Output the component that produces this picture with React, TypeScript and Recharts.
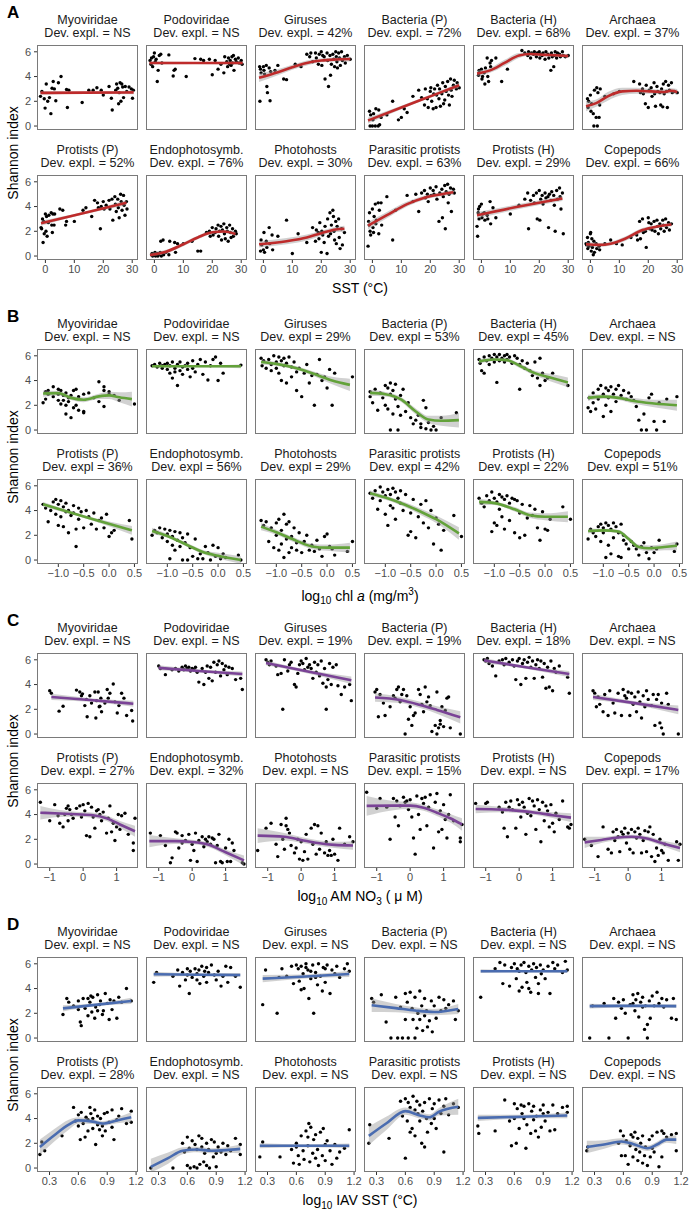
import React from 'react';
import { ComposedChart, Scatter, Line, Area, XAxis, YAxis } from 'recharts';

type Pt = [number, number];
type Fit = [number, number, number, number]; // x, fit, lower, upper

const TAXA = ['Myoviridae', 'Podoviridae', 'Giruses', 'Bacteria (P)', 'Bacteria (H)', 'Archaea',
  'Protists (P)', 'Endophotosymb.', 'Photohosts', 'Parasitic protists', 'Protists (H)', 'Copepods'];

const explA = ['Dev. expl. = NS', 'Dev. expl. = NS', 'Dev. expl. = 42%', 'Dev. expl. = 72%', 'Dev. expl. = 68%', 'Dev. expl. = 37%',
  'Dev. expl. = 52%', 'Dev. expl. = 76%', 'Dev. expl. = 30%', 'Dev. expl. = 63%', 'Dev. expl. = 29%', 'Dev. expl. = 66%'];
const explB = ['Dev. expl. = NS', 'Dev. expl. = NS', 'Dev. expl = 29%', 'Dev. expl = 53%', 'Dev. expl = 45%', 'Dev. expl. = NS',
  'Dev. expl = 36%', 'Dev. expl = 56%', 'Dev. expl = 29%', 'Dev. expl = 42%', 'Dev. expl = 22%', 'Dev. expl = 51%'];
const explC = ['Dev. expl. = NS', 'Dev. expl. = NS', 'Dev. expl. = 19%', 'Dev. expl. = 19%', 'Dev. expl. = 18%', 'Dev. expl. = NS',
  'Dev. expl. = 27%', 'Dev. expl. = 32%', 'Dev. expl. = NS', 'Dev. expl. = 15%', 'Dev. expl. = NS', 'Dev. expl. = 17%'];
const explD = ['Dev. expl. = NS', 'Dev. expl. = NS', 'Dev. expl. = NS', 'Dev. expl. = NS', 'Dev. expl. = NS', 'Dev. expl. = NS',
  'Dev. expl. = 28%', 'Dev. expl. = NS', 'Dev. expl. = NS', 'Dev. expl. = NS', 'Dev. expl. = NS', 'Dev. expl. = NS'];

const ticksA = [0, 10, 20, 30];
const ticksB = [-1, -0.5, 0, 0.5];
const ticksC = [-1, 0, 1];
const ticksD = [0.3, 0.6, 0.9, 1.2];
const yTicks = [0, 2, 4, 6];

// ---- A: SST ----
const a1: Pt[] = [[-1.7,2.4],[-1.2,2.8],[-0.4,2.2],[-0.1,1.45],[0.3,3.4],[0.8,2.0],[1.4,2.3],[1.9,1.0],[2.3,3.05],[2.7,3.6],[3.1,3.0],[3.6,2.05],[4.5,3.5],[5.4,4.0],[7.3,2.95],[8.1,2.9],[7.6,1.5],[12.7,1.9],[15,2.9],[16.5,2.9],[17.8,3.1],[19.3,2.9],[20,2.5],[22,3.2],[22.8,2.25],[23.1,1.3],[24.3,2.9],[24.6,3.4],[25,3.05],[25.3,1.8],[25.8,3.5],[26.1,2.0],[26.4,3.4],[26.7,3.15],[27,2.3],[27.6,3.2],[28.1,2.8],[28.9,3.15],[29.7,3.0],[30.4,2.9],[30.1,2.25],[25.5,2.7]];
const a2: Pt[] = [[-1.5,5.3],[-1.2,5.0],[-1,5.5],[-0.6,4.8],[-0.3,5.6],[0,5.9],[0.3,5.2],[0.6,5.4],[1,3.6],[1.3,4.5],[1.7,5.7],[2.2,5.8],[2.6,5.1],[5,5.75],[6.8,4.5],[7.2,4.6],[6.5,4.05],[11,4.0],[14,5.45],[16,5.4],[17,5.3],[19,5.4],[20,4.15],[21,5.3],[22,4.6],[23,5.0],[24,4.3],[24.3,5.6],[25,5.2],[25.3,4.8],[25.6,5.5],[26,5.0],[26.2,5.3],[26.5,4.9],[26.8,5.6],[27,5.1],[27.3,5.7],[27.5,4.5],[28,5.4],[28.3,5.2],[29,5.5],[29.3,5.1],[30,5.3],[30.3,5.0]];
const a3: Pt[] = [[-1.3,4.8],[-1,4.6],[-0.8,4.3],[-1.2,2.0],[0,4.8],[0.2,4.5],[0.4,4.2],[1,4.9],[1.2,3.2],[1.4,2.7],[2,4.7],[2.3,2.05],[2.5,4.4],[4,4.5],[5,4.9],[7,3.8],[8,3.75],[11,5.0],[13,4.8],[15,5.8],[16,5.6],[16.4,5.9],[17,5.2],[18,5.9],[18.3,5.5],[19,5.0],[19.3,5.8],[20,6.0],[20.2,4.9],[20.5,5.7],[21,5.6],[21.3,3.8],[22,5.9],[22.2,5.3],[22.5,3.2],[23,5.7],[23.2,4.1],[23.5,5.0],[24,5.8],[24.3,5.4],[24.6,4.8],[25,6.0],[25.2,5.6],[25.4,5.2],[25.6,4.7],[26,5.9],[26.3,5.5],[26.6,4.9],[27,6.0],[27.3,5.3],[28,5.6],[28.3,5.1],[29,5.7],[30,5.4]];
const a4: Pt[] = [[-1,1.2],[-0.8,0.0],[-0.6,0.9],[0,0.0],[0.2,0.5],[0.4,1.0],[1,0.0],[1.2,1.4],[2,0.0],[2.2,1.3],[2.5,0.1],[3,0.7],[5,0.9],[7,2.0],[9,0.5],[10,0.7],[11,1.4],[12,1.1],[14,2.4],[16,2.9],[17,2.3],[18,1.7],[18.3,3.0],[19,2.2],[19.3,1.5],[20,2.8],[20.2,3.1],[20.5,2.0],[21,1.4],[21.2,2.6],[21.5,3.0],[22,1.5],[22.2,2.5],[22.5,3.3],[23,2.2],[23.2,3.0],[23.5,1.6],[24,2.6],[24.3,3.5],[24.6,1.8],[25,2.1],[25.2,3.2],[25.5,2.8],[26,3.6],[26.3,2.5],[26.6,1.7],[27,3.8],[27.2,2.9],[27.5,2.4],[28,3.3],[28.3,3.7],[29,3.0],[29.3,3.5],[30,3.1]];
const a5: Pt[] = [[-1,4.1],[-0.8,4.5],[-0.6,4.3],[0,4.6],[0.2,3.8],[0.4,4.0],[1,4.3],[1.2,3.4],[1.4,4.7],[2,5.5],[2.2,4.0],[2.5,3.6],[3,5.1],[3.2,4.8],[3.5,5.3],[5,5.5],[7,3.6],[9,4.6],[14,6.1],[15,5.9],[16,5.7],[16.3,6.0],[17,5.5],[17.3,5.9],[18,5.8],[18.3,6.0],[19,5.6],[19.3,5.9],[20,6.0],[20.2,5.5],[20.5,5.8],[21,5.7],[21.3,5.9],[22,5.4],[22.3,6.0],[23,5.8],[23.3,5.5],[24,4.5],[24.2,5.9],[24.5,5.6],[25,4.8],[25.2,5.7],[25.5,6.0],[26,5.5],[26.3,5.9],[27,5.8],[27.3,5.6],[28,6.0],[28.3,5.7],[29,5.6],[30,5.7]];
const a6: Pt[] = [[-1,2.2],[-0.8,1.5],[-0.6,2.0],[0,2.5],[0.2,1.2],[0.4,1.8],[1,1.0],[1.2,0.0],[1.4,2.9],[2,0.7],[2.2,3.1],[2.4,0.0],[2.6,2.7],[3,0.7],[3.2,1.7],[3.4,3.0],[5,2.4],[8,2.6],[10,2.8],[15,3.6],[17,3.4],[17.3,2.7],[18,3.0],[18.3,2.6],[19,1.8],[19.3,3.3],[20,1.5],[20.3,2.9],[21,3.1],[21.3,2.4],[22,3.5],[22.2,2.6],[22.5,1.6],[23,3.2],[23.3,2.8],[24,2.7],[24.3,1.7],[24.6,3.0],[25,1.55],[25.2,3.4],[25.5,2.6],[26,3.6],[26.3,2.8],[26.6,1.5],[27,3.3],[27.3,2.9],[28,3.5],[28.3,2.7],[29,2.8],[30,2.7]];
const a7: Pt[] = [[-1.5,2.3],[-1.3,2.2],[-1,3.0],[-0.8,1.1],[-0.6,2.8],[-0.4,1.8],[0,3.4],[0.2,2.0],[0.4,3.2],[0.6,1.6],[1,2.7],[1.2,3.3],[2,3.5],[2.2,2.5],[2.4,1.9],[2.6,3.4],[3,2.5],[3.2,3.4],[5,3.8],[6,3.7],[7,2.5],[7.3,2.8],[10,2.8],[13,3.7],[14,3.9],[16,3.2],[17,4.5],[18,4.3],[18.3,3.9],[19,2.2],[19.3,4.0],[20,4.4],[20.3,3.8],[21,4.1],[22,4.5],[22.3,3.8],[23,4.6],[23.3,2.9],[24,4.8],[24.2,4.2],[24.5,3.6],[25,4.6],[25.2,3.9],[25.5,3.1],[26,5.0],[26.2,4.4],[26.5,3.7],[27,4.9],[27.2,4.1],[27.5,3.3],[28,4.4],[28.2,3.8]];
const a8: Pt[] = [[-1,0.1],[-0.8,0.2],[-0.6,0.0],[0,0.1],[0.2,0.3],[0.4,0.0],[1,0.2],[1.2,0.0],[1.4,0.1],[2,0.3],[2.2,1.2],[2.4,0.0],[3,1.3],[3.2,0.1],[4,0.3],[5,0.1],[5.3,1.2],[7,1.1],[7.3,0.3],[8,1.0],[10,1.0],[13,1.2],[15,0.4],[16,0.4],[18,1.9],[19,2.0],[19.3,1.6],[20,2.3],[20.3,1.7],[21,1.9],[21.3,2.2],[22,2.5],[22.2,1.6],[22.5,2.0],[23,2.4],[23.2,1.3],[23.5,2.1],[24,2.6],[24.2,1.8],[24.5,1.4],[25,2.3],[25.2,2.0],[25.5,1.2],[26,2.5],[26.2,1.9],[26.5,1.5],[27,2.2],[27.3,1.6],[28,2.0],[28.3,1.8]];
const a9: Pt[] = [[-1,0.4],[-0.8,1.3],[-0.6,0.9],[0,0.5],[0.2,1.9],[0.4,0.3],[1,1.2],[1.2,0.7],[2,2.3],[2.2,1.0],[3,1.7],[3.2,0.5],[5,1.6],[8,2.9],[10,0.2],[12,1.8],[15,1.1],[17,2.3],[18,1.2],[18.3,2.1],[19,1.9],[19.2,1.4],[19.5,2.7],[20,0.3],[20.2,2.0],[20.5,1.7],[21,1.1],[21.3,2.4],[22,0.2],[22.2,3.0],[22.5,1.6],[23,3.5],[23.2,1.8],[23.5,2.5],[24,3.7],[24.2,3.2],[24.4,2.0],[24.6,1.3],[25,2.8],[25.2,1.0],[25.5,2.4],[26,3.0],[26.2,1.5],[26.5,0.6],[27,2.2],[27.3,0.9],[28,1.9]];
const a10: Pt[] = [[-1.5,0.8],[-1.3,2.8],[-1.1,2.5],[-1,3.5],[-0.8,2.0],[-0.6,1.7],[0,3.8],[0.2,2.3],[0.4,1.9],[0.6,3.2],[1,4.2],[1.2,2.6],[1.4,2.9],[2,4.3],[2.2,1.8],[2.4,3.7],[3,4.3],[3.2,2.5],[5,4.8],[7,1.3],[8,3.7],[12,4.9],[14,4.4],[15,5.0],[16,3.6],[17,5.1],[18,5.3],[18.3,4.7],[19,5.0],[19.3,4.4],[20,5.5],[20.3,4.9],[21,5.3],[21.3,5.0],[22,5.6],[22.3,4.6],[23,2.8],[23.3,5.1],[24,5.4],[24.2,3.1],[24.5,4.8],[25,5.7],[25.2,2.2],[25.5,5.2],[26,5.8],[26.2,4.3],[26.5,5.0],[27,5.5],[27.3,3.6],[28,5.4],[28.3,5.1]];
const a11: Pt[] = [[-1.5,2.4],[-1.3,1.6],[-1.1,3.5],[-1,3.8],[-0.8,3.0],[-0.6,4.0],[0,4.2],[0.2,3.1],[0.4,3.4],[1,3.5],[1.2,2.9],[2,3.3],[2.2,3.0],[3,4.4],[3.2,2.6],[4,3.9],[5,3.1],[10,3.4],[13,4.1],[15,4.6],[16,5.1],[16.3,2.2],[17,4.5],[18,4.9],[18.3,4.3],[19,5.1],[19.3,3.0],[20,5.3],[20.2,2.9],[20.5,4.6],[21,4.9],[21.3,4.2],[22,5.1],[22.3,4.7],[23,4.8],[23.2,2.3],[23.5,5.0],[24,4.5],[24.3,5.2],[25,4.9],[25.2,4.1],[25.5,2.0],[26,5.3],[26.3,4.6],[27,5.5],[27.2,4.8],[27.5,3.8],[28,5.1],[28.3,1.8]];
const a12: Pt[] = [[-1.5,1.0],[-1.3,0.9],[-1,1.5],[-0.9,0.6],[-0.7,1.1],[-0.5,0.8],[0,1.8],[0.1,1.9],[0.3,0.4],[0.5,1.4],[0.7,0.7],[1,0.1],[1.2,1.2],[1.4,0.3],[2,1.0],[2.2,0.6],[3,0.8],[3.2,0.5],[5,1.0],[7,1.3],[9,1.0],[11,0.9],[14,1.5],[16,1.7],[16.3,1.3],[17,2.8],[17.3,1.4],[18,3.0],[18.3,1.9],[19,2.0],[19.3,0.7],[20,3.1],[20.2,2.7],[20.5,2.2],[21,2.6],[21.3,2.1],[22,2.8],[22.3,2.0],[23,2.9],[23.2,2.4],[23.5,1.8],[24,2.6],[24.3,2.2],[25,2.9],[25.2,2.5],[25.5,2.0],[26,3.0],[26.3,2.3],[27,2.7],[27.3,2.1],[28,2.6]];

const fa1: Fit[] = [[-1.7,2.68,2.52,2.84],[14,2.7,2.6,2.8],[30.5,2.72,2.56,2.88]];
const fa2: Fit[] = [[-1.7,5.1,4.98,5.22],[14,5.1,5.02,5.18],[30.5,5.1,4.98,5.22]];
const fa3: Fit[] = [[-1.5,3.9,3.55,4.25],[5,4.35,4.1,4.6],[10,4.75,4.55,4.95],[15,5.1,4.9,5.3],[20,5.3,5.15,5.45],[25,5.38,5.22,5.54],[30,5.42,5.22,5.62]];
const fa4: Fit[] = [[-1.5,0.45,0.2,0.7],[10,1.5,1.35,1.65],[20,2.4,2.28,2.52],[30,3.3,3.1,3.5]];
const fa5: Fit[] = [[-1.5,4.25,4.0,4.5],[3,4.5,4.3,4.7],[8,5.1,4.85,5.35],[13,5.7,5.5,5.9],[17,5.82,5.7,5.94],[22,5.75,5.65,5.85],[26,5.72,5.6,5.84],[30,5.65,5.5,5.8]];
const fa6: Fit[] = [[-1.5,1.6,1.2,2.0],[2,1.85,1.55,2.15],[6,2.4,2.05,2.75],[11,2.8,2.5,3.1],[16,2.85,2.6,3.1],[21,2.8,2.6,3.0],[25,2.75,2.55,2.95],[28,2.85,2.65,3.05],[30,2.75,2.5,3.0]];
const fa7: Fit[] = [[-1.5,2.65,2.45,2.85],[13,3.45,3.35,3.55],[28,4.3,4.1,4.5]];
const fa8: Fit[] = [[-1.5,0.08,-0.05,0.25],[4,0.35,0.2,0.5],[10,0.95,0.8,1.1],[15,1.5,1.35,1.65],[20,1.92,1.8,2.04],[24,1.98,1.86,2.1],[28,1.78,1.6,1.96]];
const fa9: Fit[] = [[-1.5,0.95,0.7,1.2],[8,1.2,0.95,1.45],[15,1.5,1.25,1.75],[20,1.85,1.65,2.05],[25,2.15,1.95,2.35],[28,2.2,1.95,2.45]];
const fa10: Fit[] = [[-1.5,2.45,2.15,2.75],[5,3.3,3.05,3.55],[12,4.2,4.0,4.4],[18,4.72,4.55,4.89],[24,5.0,4.85,5.15],[28,5.15,4.95,5.35]];
const fa11: Fit[] = [[-1.5,3.3,3.05,3.55],[13,4.0,3.8,4.2],[28,4.65,4.45,4.85]];
const fa12: Fit[] = [[-1.5,0.95,0.75,1.15],[3,0.9,0.75,1.05],[7,1.0,0.85,1.15],[12,1.4,1.22,1.58],[18,2.1,1.93,2.27],[23,2.38,2.25,2.51],[28,2.55,2.38,2.72]];

// ---- B: log10 chl a ----
const b1: Pt[] = [[-1.3,2.2],[-1.25,2.5],[-1.25,3.1],[-1.2,2.9],[-1.2,3.2],[-1.1,3.5],[-1.1,2.7],[-1,3.3],[-1,2.9],[-1,2.4],[-0.95,3.2],[-0.95,2.1],[-0.9,2.8],[-0.9,2.4],[-0.85,3.0],[-0.85,2.0],[-0.85,1.3],[-0.8,2.6],[-0.8,2.3],[-0.75,1.0],[-0.75,2.8],[-0.7,3.2],[-0.7,1.8],[-0.65,2.0],[-0.65,3.3],[-0.6,2.7],[-0.6,1.6],[-0.5,2.9],[-0.5,1.4],[-0.5,1.5],[-0.4,3.0],[-0.3,2.6],[-0.2,3.9],[-0.2,2.3],[-0.1,3.5],[-0.1,3.2],[-0.1,1.9],[0,2.9],[0,3.1],[0.1,2.8],[0.2,2.4],[0.5,2.1]];
const b2: Pt[] = [[-1.3,5.2],[-1.25,5.3],[-1.2,5.1],[-1.15,5.4],[-1.1,5.2],[-1.1,5.0],[-1.05,5.3],[-1,5.4],[-1,4.9],[-0.95,5.2],[-0.95,4.6],[-0.9,5.5],[-0.9,4.2],[-0.85,5.0],[-0.85,4.7],[-0.8,5.3],[-0.8,3.6],[-0.75,5.5],[-0.75,4.8],[-0.7,5.1],[-0.7,4.5],[-0.65,5.2],[-0.6,5.4],[-0.6,4.9],[-0.55,4.3],[-0.5,5.0],[-0.5,5.6],[-0.45,4.7],[-0.4,5.3],[-0.35,5.7],[-0.3,4.5],[-0.25,5.5],[-0.2,4.05],[-0.15,5.2],[-0.1,5.7],[-0.05,5.9],[0,4.0],[0.05,5.4],[0.1,4.6],[0.45,5.25]];
const b3: Pt[] = [[-1.3,5.8],[-1.28,5.2],[-1.25,5.6],[-1.2,5.0],[-1.15,5.7],[-1.1,5.3],[-1.1,4.8],[-1.05,6.0],[-1,5.5],[-1,5.0],[-0.95,5.9],[-0.95,4.6],[-0.9,5.6],[-0.9,4.0],[-0.85,5.8],[-0.85,5.2],[-0.8,5.4],[-0.8,3.8],[-0.75,5.9],[-0.7,5.1],[-0.7,4.3],[-0.65,5.5],[-0.6,3.2],[-0.6,4.7],[-0.55,5.0],[-0.5,2.7],[-0.45,4.6],[-0.4,5.3],[-0.35,3.8],[-0.3,4.4],[-0.25,2.0],[-0.2,4.5],[-0.15,5.7],[-0.1,4.0],[-0.05,4.3],[0,3.4],[0.05,4.9],[0.1,2.0],[0.15,4.6],[0.5,4.3]];
const b4: Pt[] = [[-1.3,2.7],[-1.3,3.1],[-1.25,2.2],[-1.2,3.3],[-1.15,1.6],[-1.1,3.0],[-1.05,2.6],[-1,3.6],[-1,2.0],[-0.95,3.4],[-0.95,1.7],[-0.9,3.8],[-0.9,2.9],[-0.9,0.0],[-0.85,3.2],[-0.85,1.3],[-0.8,2.5],[-0.8,3.7],[-0.75,1.9],[-0.75,0.0],[-0.7,2.8],[-0.7,1.2],[-0.65,3.3],[-0.6,1.5],[-0.55,2.2],[-0.5,1.0],[-0.45,0.5],[-0.4,0.8],[-0.35,1.2],[-0.3,0.2],[-0.25,2.4],[-0.2,1.8],[-0.15,0.6],[-0.1,0.0],[-0.05,0.3],[0,0.0],[0.1,1.0],[0.4,1.4],[-0.3,0.5],[-0.2,0.1]];
const b5: Pt[] = [[-1.3,5.7],[-1.28,5.4],[-1.25,4.8],[-1.2,5.9],[-1.2,4.6],[-1.15,5.6],[-1.1,6.0],[-1.1,5.3],[-1.05,5.8],[-1,6.1],[-1,5.5],[-0.95,5.9],[-0.95,3.85],[-0.9,6.1],[-0.9,5.6],[-0.85,5.8],[-0.8,6.0],[-0.8,5.5],[-0.75,6.1],[-0.75,5.7],[-0.7,5.9],[-0.65,5.4],[-0.6,6.0],[-0.55,5.8],[-0.5,5.3],[-0.5,3.3],[-0.45,5.6],[-0.4,5.0],[-0.35,5.4],[-0.3,4.8],[-0.25,4.4],[-0.2,5.5],[-0.15,4.2],[-0.1,5.8],[-0.1,3.6],[-0.05,4.6],[0,4.0],[0.05,4.2],[0.15,4.6],[0.45,3.6]];
const b6: Pt[] = [[-1.3,1.8],[-1.28,2.6],[-1.25,1.5],[-1.2,2.2],[-1.2,3.0],[-1.15,1.7],[-1.1,3.3],[-1.1,2.5],[-1.05,3.6],[-1,2.9],[-1,1.1],[-0.95,3.4],[-0.95,2.0],[-0.9,3.2],[-0.9,2.6],[-0.85,3.5],[-0.85,1.5],[-0.8,2.9],[-0.75,3.3],[-0.75,2.3],[-0.7,3.6],[-0.65,2.8],[-0.6,3.2],[-0.55,2.5],[-0.5,3.0],[-0.45,2.7],[-0.4,2.4],[-0.35,1.9],[-0.3,0.8],[-0.25,0.0],[-0.2,1.3],[-0.15,0.0],[-0.1,2.6],[-0.05,2.9],[0,0.7],[0.05,0.0],[0.1,2.2],[0.2,0.7],[0.25,2.5],[0.45,2.7]];
const b7: Pt[] = [[-1.3,4.5],[-1.25,4.2],[-1.2,3.1],[-1.15,4.0],[-1.1,4.7],[-1.05,4.9],[-1.05,3.7],[-1,4.5],[-1,2.8],[-0.95,4.8],[-0.95,3.5],[-0.9,4.3],[-0.9,2.7],[-0.85,4.6],[-0.85,3.9],[-0.8,4.0],[-0.8,2.2],[-0.75,3.6],[-0.7,4.4],[-0.7,3.8],[-0.65,1.1],[-0.65,2.5],[-0.6,4.2],[-0.6,3.3],[-0.55,3.9],[-0.5,2.6],[-0.45,4.0],[-0.4,3.5],[-0.35,2.9],[-0.3,3.8],[-0.25,2.5],[-0.2,3.2],[-0.15,3.4],[-0.1,2.6],[-0.05,3.7],[0,1.9],[0.05,2.2],[0.1,2.4],[0.4,3.2],[0.45,1.7]];
const b8: Pt[] = [[-1.3,2.0],[-1.25,2.4],[-1.2,2.2],[-1.15,2.6],[-1.1,1.8],[-1.05,2.5],[-1,2.1],[-1,1.5],[-0.95,2.4],[-0.95,0.1],[-0.9,1.9],[-0.9,1.2],[-0.85,2.3],[-0.85,0.8],[-0.8,1.6],[-0.75,2.2],[-0.75,1.1],[-0.7,0.0],[-0.7,1.8],[-0.65,1.4],[-0.6,0.0],[-0.6,2.1],[-0.55,1.0],[-0.5,0.3],[-0.45,1.7],[-0.4,0.1],[-0.35,0.5],[-0.3,0.1],[-0.25,1.1],[-0.2,0.6],[-0.15,0.0],[-0.1,1.2],[-0.05,0.3],[0,1.0],[0.05,0.1],[0.1,0.5],[0.15,0.2],[0.4,0.4],[0.45,0.0]];
const b9: Pt[] = [[-1.3,3.2],[-1.25,2.8],[-1.2,3.1],[-1.15,1.5],[-1.1,2.6],[-1.05,1.0],[-1,3.0],[-1,2.0],[-0.95,3.3],[-0.95,0.8],[-0.9,2.4],[-0.9,1.3],[-0.85,0.2],[-0.85,3.7],[-0.8,2.9],[-0.8,1.7],[-0.75,3.1],[-0.75,0.6],[-0.7,1.9],[-0.7,1.0],[-0.65,2.6],[-0.6,0.8],[-0.6,1.4],[-0.55,2.2],[-0.5,0.6],[-0.45,1.5],[-0.4,2.0],[-0.35,0.8],[-0.3,1.2],[-0.25,0.7],[-0.2,1.6],[-0.15,0.9],[-0.1,0.3],[-0.05,1.9],[0,2.1],[0.05,1.1],[0.1,0.9],[0.15,0.4],[0.4,0.7],[0.5,1.5]];
const b10: Pt[] = [[-1.3,5.4],[-1.25,5.0],[-1.2,5.6],[-1.15,4.1],[-1.1,5.9],[-1.1,4.8],[-1.05,5.5],[-1,5.2],[-1,3.7],[-0.95,5.7],[-0.95,2.8],[-0.9,5.3],[-0.9,4.4],[-0.85,5.8],[-0.85,4.2],[-0.8,5.5],[-0.8,3.3],[-0.75,5.0],[-0.7,5.6],[-0.7,4.6],[-0.65,4.0],[-0.6,5.3],[-0.55,2.0],[-0.5,3.8],[-0.5,2.3],[-0.45,4.9],[-0.4,1.8],[-0.35,3.5],[-0.3,4.5],[-0.25,3.0],[-0.2,4.8],[-0.15,2.6],[-0.1,4.0],[-0.05,1.3],[0,3.4],[0.05,2.9],[0.1,0.8],[0.15,2.4],[0.35,3.6],[0.5,1.9]];
const b11: Pt[] = [[-1.3,5.0],[-1.25,4.6],[-1.2,4.3],[-1.15,5.2],[-1.1,4.8],[-1.05,5.5],[-1.05,2.3],[-1,5.0],[-1,3.0],[-0.95,4.7],[-0.95,2.8],[-0.9,5.3],[-0.9,4.1],[-0.85,5.1],[-0.85,3.5],[-0.8,4.9],[-0.8,2.5],[-0.75,5.2],[-0.7,4.6],[-0.7,3.2],[-0.65,5.0],[-0.6,2.2],[-0.6,4.9],[-0.55,4.8],[-0.5,3.8],[-0.5,1.8],[-0.45,4.5],[-0.4,2.0],[-0.35,3.4],[-0.3,4.4],[-0.25,3.6],[-0.2,4.1],[-0.15,2.6],[-0.1,1.6],[-0.05,3.9],[0,2.5],[0.05,2.4],[0.1,3.3],[0.35,4.3],[0.5,3.3]];
const b12: Pt[] = [[-1.3,1.7],[-1.25,2.5],[-1.2,2.2],[-1.15,1.9],[-1.1,2.7],[-1.05,2.9],[-1.05,1.5],[-1,2.6],[-1,2.2],[-0.95,3.0],[-0.95,0.2],[-0.9,2.8],[-0.9,1.2],[-0.85,2.5],[-0.85,0.5],[-0.8,3.0],[-0.8,1.8],[-0.75,2.7],[-0.7,2.2],[-0.7,0.3],[-0.65,2.9],[-0.65,0.2],[-0.6,2.0],[-0.6,1.6],[-0.55,1.3],[-0.5,0.9],[-0.45,1.5],[-0.4,1.2],[-0.35,0.9],[-0.3,0.4],[-0.25,1.1],[-0.2,1.4],[-0.15,0.6],[-0.1,0.1],[-0.05,1.0],[0,0.6],[0.05,0.9],[0.1,1.6],[0.4,0.7],[0.45,1.3]];

const fb1: Fit[] = [[-1.3,2.95,2.7,3.2],[-1,2.98,2.8,3.16],[-0.75,2.6,2.42,2.78],[-0.5,2.45,2.25,2.65],[-0.2,2.72,2.5,2.94],[0,2.8,2.5,3.1],[0.2,2.65,2.25,3.05],[0.45,2.5,1.9,3.1]];
const fb2: Fit[] = [[-1.3,5.15,5.05,5.25],[-0.4,5.15,5.08,5.22],[0.45,5.15,5.0,5.3]];
const fb3: Fit[] = [[-1.3,5.5,5.3,5.7],[-1,5.35,5.2,5.5],[-0.6,5.0,4.85,5.15],[-0.2,4.45,4.25,4.65],[0.1,4.0,3.7,4.3],[0.45,3.65,3.15,4.15]];
const fb4: Fit[] = [[-1.3,3.0,2.75,3.25],[-1,2.9,2.72,3.08],[-0.7,2.5,2.3,2.7],[-0.4,1.5,1.25,1.75],[-0.15,0.85,0.55,1.15],[0.1,0.75,0.35,1.15],[0.45,0.8,0.2,1.4]];
const fb5: Fit[] = [[-1.3,5.55,5.35,5.75],[-1,5.7,5.58,5.82],[-0.75,5.65,5.52,5.78],[-0.5,5.2,5.02,5.38],[-0.2,4.6,4.4,4.8],[0.1,4.25,3.95,4.55],[0.45,3.85,3.45,4.25]];
const fb6: Fit[] = [[-1.3,2.6,2.35,2.85],[-1,2.7,2.52,2.88],[-0.7,2.6,2.42,2.78],[-0.4,2.35,2.12,2.58],[0,2.15,1.85,2.45],[0.45,2.0,1.55,2.45]];
const fb7: Fit[] = [[-1.3,4.5,4.3,4.7],[-0.4,3.4,3.28,3.52],[0.45,2.4,2.05,2.75]];
const fb8: Fit[] = [[-1.3,2.35,2.1,2.6],[-1,1.95,1.8,2.1],[-0.6,1.2,1.05,1.35],[-0.3,0.65,0.48,0.82],[0,0.35,0.12,0.58],[0.45,0.0,-0.3,0.3]];
const fb9: Fit[] = [[-1.3,2.7,2.4,3.0],[-1,2.25,2.05,2.45],[-0.6,1.55,1.35,1.75],[-0.3,1.1,0.88,1.32],[0,1.0,0.75,1.25],[0.45,1.0,0.6,1.4]];
const fb10: Fit[] = [[-1.3,5.4,5.15,5.65],[-1,5.05,4.88,5.22],[-0.6,4.45,4.25,4.65],[-0.3,3.9,3.65,4.15],[0,3.3,3.0,3.6],[0.45,2.15,1.65,2.65]];
const fb11: Fit[] = [[-1.3,4.7,4.45,4.95],[-1,4.6,4.45,4.75],[-0.6,4.1,3.92,4.28],[-0.3,3.62,3.4,3.84],[0,3.5,3.22,3.78],[0.45,3.5,3.05,3.95]];
const fb12: Fit[] = [[-1.3,2.35,2.15,2.55],[-1,2.4,2.28,2.52],[-0.7,2.3,2.15,2.45],[-0.5,1.7,1.52,1.88],[-0.3,1.05,0.85,1.25],[-0.1,0.95,0.72,1.18],[0.2,1.05,0.8,1.3],[0.45,1.15,0.8,1.5]];

// ---- C: log10 AM NO3 ----
const c1: Pt[] = [[-1,3.5],[-0.95,3.3],[-0.72,1.85],[-0.6,2.25],[-0.2,3.55],[-0.1,3.4],[-0.05,3.1],[-0.02,3.25],[0.05,2.3],[0.1,2.8],[0.12,1.4],[0.2,3.1],[0.25,2.5],[0.35,3.4],[0.38,1.3],[0.4,2.7],[0.45,3.4],[0.48,2.2],[0.5,2.25],[0.53,2.9],[0.55,1.8],[0.65,2.5],[0.72,3.6],[0.75,2.9],[0.8,3.3],[0.9,4.05],[0.95,2.6],[1.02,1.7],[1.07,2.3],[1.15,3.3],[1.22,2.9],[1.3,1.5],[1.45,1.9],[1.48,1.05]];
const c2: Pt[] = [[-1,5.5],[-0.95,5.3],[-0.8,4.8],[-0.6,5.2],[-0.5,5.3],[-0.4,5.1],[-0.3,5.4],[-0.25,5.2],[-0.2,5.5],[-0.15,5.3],[-0.1,5.4],[-0.05,5.1],[0,5.3],[0.05,5.2],[0.1,5.4],[0.15,5.0],[0.2,4.2],[0.3,5.3],[0.35,4.0],[0.4,5.0],[0.45,5.5],[0.5,4.5],[0.55,5.4],[0.6,4.3],[0.65,5.8],[0.7,5.0],[0.75,5.6],[0.8,5.9],[0.85,4.7],[0.9,5.7],[0.95,5.2],[1,5.5],[1.05,4.8],[1.1,5.4],[1.2,5.3],[1.3,4.4],[1.45,4.5],[1.5,3.6]];
const c3: Pt[] = [[-1.05,6.0],[-1,5.8],[-0.95,5.6],[-0.9,5.9],[-0.75,5.5],[-0.7,4.8],[-0.6,4.9],[-0.5,6.0],[-0.4,5.1],[-0.35,5.6],[-0.3,5.8],[-0.2,4.0],[-0.15,3.8],[-0.1,4.9],[-0.05,5.6],[0,5.9],[0.05,5.7],[0.1,5.2],[0.15,6.1],[0.2,5.4],[0.25,5.6],[0.3,5.3],[0.35,4.5],[0.4,5.8],[0.45,5.0],[0.5,5.6],[0.55,4.7],[0.6,5.9],[0.65,4.1],[0.7,5.3],[0.75,3.8],[0.8,4.4],[0.85,5.7],[0.9,4.0],[0.95,5.4],[1.05,5.6],[1.1,3.9],[1.2,3.2],[1.3,3.8],[1.45,4.0],[1.5,2.7],[-0.55,2.0],[0.75,2.0]];
const c4: Pt[] = [[-1.05,3.4],[-1,3.6],[-0.95,1.4],[-0.9,3.2],[-0.8,2.5],[-0.75,1.5],[-0.6,2.2],[-0.5,3.1],[-0.45,2.9],[-0.4,3.6],[-0.35,3.8],[-0.3,2.6],[-0.25,3.2],[-0.2,3.6],[-0.15,0.0],[-0.1,3.1],[-0.05,1.2],[0,2.2],[0.05,0.7],[0.1,1.5],[0.15,1.7],[0.25,3.6],[0.3,3.2],[0.35,2.4],[0.4,1.8],[0.45,3.8],[0.5,2.6],[0.55,3.0],[0.6,2.3],[0.65,0.2],[0.75,0.7],[0.8,3.4],[0.85,0.5],[0.9,0.8],[0.95,2.2],[1,0.6],[1.05,1.9],[1.1,2.9],[1.15,3.0],[1.2,0.5],[1.5,0.0],[0.8,0.0],[0.9,1.1]];
const c5: Pt[] = [[-1.05,6.0],[-1,5.9],[-0.95,6.1],[-0.9,5.7],[-0.8,5.5],[-0.7,4.7],[-0.6,5.9],[-0.5,6.0],[-0.45,5.6],[-0.4,6.1],[-0.3,5.8],[-0.2,6.0],[-0.15,5.5],[-0.1,4.4],[-0.05,5.9],[0,6.1],[0.05,4.0],[0.1,5.7],[0.15,6.0],[0.2,4.5],[0.25,5.8],[0.3,6.2],[0.35,5.4],[0.4,5.9],[0.45,4.5],[0.5,5.6],[0.55,6.0],[0.6,5.3],[0.65,5.9],[0.7,4.6],[0.75,5.7],[0.8,3.7],[0.85,5.4],[0.9,3.8],[0.95,5.9],[1,3.5],[1.05,5.3],[1.1,5.0],[1.2,5.5],[1.45,4.6],[1.5,3.3]];
const c6: Pt[] = [[-1.05,3.5],[-1,3.3],[-0.95,2.2],[-0.9,3.0],[-0.85,2.4],[-0.75,1.8],[-0.7,3.2],[-0.6,1.5],[-0.55,3.5],[-0.45,2.5],[-0.4,1.7],[-0.3,3.3],[-0.2,1.5],[-0.15,3.6],[-0.1,3.1],[-0.05,2.9],[0,3.4],[0.05,1.5],[0.1,3.3],[0.15,2.4],[0.2,3.0],[0.25,1.8],[0.3,3.4],[0.35,2.6],[0.4,1.3],[0.45,3.1],[0.5,2.2],[0.55,3.5],[0.6,2.8],[0.7,2.3],[0.75,3.2],[0.8,0.7],[0.85,2.8],[0.9,3.2],[0.95,0.9],[1,0.5],[1.05,0.0],[1.15,3.3],[1.2,2.4],[1.5,0.0],[1,2.5]];
const c7: Pt[] = [[-1.28,5.0],[-1,3.5],[-0.85,4.8],[-0.75,3.9],[-0.7,3.3],[-0.6,3.0],[-0.55,4.0],[-0.5,4.5],[-0.45,4.7],[-0.45,3.5],[-0.4,4.4],[-0.35,4.0],[-0.3,3.7],[-0.2,4.5],[-0.1,4.7],[-0.05,3.8],[0,4.8],[0.05,4.3],[0.1,2.3],[0.15,4.9],[0.2,2.2],[0.25,4.6],[0.3,3.8],[0.35,2.9],[0.4,4.3],[0.45,4.4],[0.5,4.0],[0.55,3.5],[0.6,4.2],[0.7,2.5],[0.75,3.7],[0.8,4.7],[0.85,2.6],[0.9,3.3],[0.95,1.9],[1,3.0],[1.05,4.0],[1.1,2.8],[1.15,3.9],[1.25,4.1],[1.35,2.4],[1.5,1.7],[1.5,1.1],[1.55,3.7]];
const c8: Pt[] = [[-1.25,2.5],[-0.95,2.3],[-0.8,1.5],[-0.65,0.1],[-0.6,0.5],[-0.5,2.6],[-0.45,2.5],[-0.4,1.3],[-0.3,1.7],[-0.3,2.3],[-0.2,1.9],[-0.1,2.4],[-0.05,0.3],[0,1.6],[0.05,1.1],[0.1,2.5],[0.15,0.2],[0.2,1.9],[0.3,2.2],[0.35,1.4],[0.4,2.0],[0.45,1.8],[0.5,2.2],[0.55,1.6],[0.6,2.1],[0.65,2.0],[0.7,0.1],[0.75,1.5],[0.8,2.4],[0.85,0.2],[0.9,0.1],[1,1.3],[1.05,0.2],[1.1,2.0],[1.15,0.2],[1.2,1.7],[1.25,1.1],[1.5,0.1],[1.55,0.0]];
const c9: Pt[] = [[-1.3,1.1],[-1.05,2.9],[-0.9,3.3],[-0.75,1.6],[-0.7,0.6],[-0.6,3.2],[-0.55,2.0],[-0.5,1.2],[-0.45,3.7],[-0.45,3.1],[-0.4,2.8],[-0.35,2.5],[-0.3,1.5],[-0.2,0.9],[-0.15,1.3],[-0.1,2.0],[-0.05,0.4],[0,1.8],[0.05,0.3],[0.1,1.0],[0.15,2.4],[0.2,0.4],[0.3,2.9],[0.35,1.6],[0.4,3.2],[0.45,0.8],[0.5,3.1],[0.55,1.2],[0.6,2.5],[0.7,0.9],[0.75,1.8],[0.8,0.7],[0.85,1.1],[0.9,0.7],[0.95,2.0],[1,0.8],[1.1,0.3],[1.15,2.9],[1.3,1.6],[1.45,2.2],[1.55,1.8]];
const c10: Pt[] = [[-1.3,5.8],[-1,4.5],[-0.9,5.3],[-0.7,4.6],[-0.6,2.0],[-0.5,5.3],[-0.45,3.8],[-0.4,5.1],[-0.35,3.1],[-0.3,4.7],[-0.2,5.4],[-0.15,5.0],[-0.1,5.1],[-0.05,4.4],[0,5.2],[0.05,3.8],[0.1,2.1],[0.15,0.8],[0.2,5.5],[0.25,4.0],[0.3,2.8],[0.35,5.3],[0.4,4.9],[0.45,5.4],[0.5,3.1],[0.55,4.6],[0.6,5.6],[0.7,1.3],[0.75,5.0],[0.8,5.7],[0.85,2.6],[0.9,4.3],[0.95,2.8],[1,4.8],[1.05,3.6],[1.1,2.1],[1.15,4.0],[1.2,5.6],[1.3,3.5],[1.5,2.1],[1.5,1.8],[1.55,3.2]];
const c11: Pt[] = [[-1.3,4.9],[-1,4.9],[-0.95,5.0],[-0.6,4.6],[-0.5,4.2],[-0.45,2.9],[-0.4,5.0],[-0.35,2.2],[-0.3,4.6],[-0.25,5.1],[-0.2,4.4],[-0.1,2.9],[-0.05,5.2],[0,4.8],[0.05,3.8],[0.1,5.0],[0.15,4.6],[0.2,2.4],[0.25,4.1],[0.3,5.3],[0.35,3.9],[0.4,5.1],[0.45,4.7],[0.5,2.8],[0.55,5.2],[0.6,4.4],[0.65,1.8],[0.7,5.0],[0.75,3.5],[0.8,4.7],[0.85,4.3],[0.9,3.0],[0.95,4.8],[1,3.3],[1.05,2.6],[1.1,4.1],[1.2,3.6],[1.3,5.1],[1.45,3.0],[1.5,2.9],[1.55,3.2]];
const c12: Pt[] = [[-1.3,2.0],[-1.1,1.5],[-0.9,0.6],[-0.75,3.0],[-0.6,1.2],[-0.5,0.9],[-0.45,2.6],[-0.4,1.9],[-0.35,2.8],[-0.3,2.2],[-0.25,1.0],[-0.2,2.6],[-0.15,2.4],[-0.1,2.9],[-0.05,1.7],[0,2.5],[0.05,1.2],[0.1,2.8],[0.15,0.9],[0.2,2.6],[0.25,2.1],[0.3,2.9],[0.35,2.4],[0.4,0.9],[0.45,1.9],[0.5,2.7],[0.55,1.0],[0.6,2.6],[0.65,3.0],[0.7,0.6],[0.75,2.4],[0.8,0.2],[0.85,1.3],[0.9,0.7],[0.95,2.0],[1,1.1],[1.05,0.9],[1.1,1.6],[1.2,0.3],[1.45,1.8],[1.5,0.3],[1.55,1.6]];

const fc1: Fit[] = [[-0.95,3.0,2.75,3.25],[0.2,2.75,2.6,2.9],[1.5,2.45,2.2,2.7]];
const fc2: Fit[] = [[-1,5.35,5.15,5.55],[0.2,5.1,4.98,5.22],[1.5,4.85,4.65,5.05]];
const fc3: Fit[] = [[-1.05,5.75,5.55,5.95],[0.2,5.05,4.9,5.2],[1.5,4.35,4.05,4.65]];
const fc4: Fit[] = [[-1.05,2.95,2.6,3.3],[-0.3,2.75,2.5,3.0],[0.3,2.35,2.1,2.6],[0.8,1.95,1.65,2.25],[1.5,1.35,0.85,1.85]];
const fc5: Fit[] = [[-1.05,5.95,5.75,6.15],[0.2,5.4,5.28,5.52],[1.5,4.85,4.6,5.1]];
const fc6: Fit[] = [[-1.05,3.0,2.75,3.25],[0.2,2.5,2.35,2.65],[1.5,1.95,1.6,2.3]];
const fc7: Fit[] = [[-1.28,4.15,3.6,4.7],[-0.7,4.08,3.8,4.36],[-0.2,4.02,3.82,4.22],[0.3,3.95,3.75,4.15],[0.7,3.7,3.48,3.92],[1.1,3.2,2.92,3.48],[1.55,2.65,2.2,3.1]];
const fc8: Fit[] = [[-1.28,1.85,1.35,2.35],[-0.5,1.85,1.62,2.08],[0,1.78,1.6,1.96],[0.5,1.55,1.36,1.74],[1,0.95,0.72,1.18],[1.55,0.3,-0.1,0.7]];
const fc9: Fit[] = [[-1.3,2.3,1.7,2.9],[-0.5,2.2,1.9,2.5],[0,1.95,1.72,2.18],[0.5,1.7,1.48,1.92],[1,1.55,1.3,1.8],[1.55,1.5,1.15,1.85]];
const fc10: Fit[] = [[-1.3,4.7,3.9,5.5],[-0.5,4.72,4.35,5.09],[0,4.72,4.45,4.99],[0.4,4.55,4.3,4.8],[0.8,4.15,3.88,4.42],[1.2,3.7,3.35,4.05],[1.55,3.2,2.7,3.7]];
const fc11: Fit[] = [[-1.3,4.45,4.1,4.8],[-0.5,4.4,4.18,4.62],[0,4.3,4.12,4.48],[0.5,4.15,3.97,4.33],[1,3.95,3.72,4.18],[1.55,3.75,3.4,4.1]];
const fc12: Fit[] = [[-1.3,1.75,1.3,2.2],[-0.8,1.95,1.7,2.2],[-0.3,2.15,1.97,2.33],[0.1,2.2,2.03,2.37],[0.6,2.05,1.87,2.23],[1,1.7,1.48,1.92],[1.55,1.3,0.95,1.65]];

// ---- D: log10 IAV SST ----
const d1: Pt[] = [[0.44,1.9],[0.48,3.2],[0.5,2.9],[0.55,2.6],[0.6,2.3],[0.6,3.0],[0.62,1.3],[0.63,1.0],[0.65,3.2],[0.67,2.4],[0.7,1.8],[0.7,3.2],[0.72,2.9],[0.73,3.4],[0.74,2.1],[0.75,3.3],[0.77,1.6],[0.78,2.5],[0.8,3.5],[0.8,2.2],[0.82,2.7],[0.83,3.0],[0.85,1.9],[0.86,2.2],[0.88,3.6],[0.9,2.8],[0.92,1.5],[0.93,3.1],[0.95,2.3],[0.97,3.0],[1,1.6],[1.02,3.3],[1.05,2.9],[1.1,4.0],[1.15,3.0]];
const d2: Pt[] = [[0.25,4.5],[0.28,5.3],[0.45,5.0],[0.5,5.5],[0.52,4.2],[0.55,5.3],[0.58,4.7],[0.6,5.1],[0.6,5.6],[0.62,3.6],[0.63,5.4],[0.65,4.9],[0.68,5.6],[0.7,5.2],[0.7,4.7],[0.72,5.5],[0.73,4.4],[0.75,5.8],[0.77,5.0],[0.78,5.4],[0.8,4.5],[0.8,5.7],[0.82,5.3],[0.85,5.9],[0.88,5.1],[0.9,4.7],[0.92,5.4],[0.95,4.2],[0.97,5.0],[1,5.8],[1.02,4.5],[1.05,5.7],[1.1,5.0],[1.15,4.1]];
const d3: Pt[] = [[0.25,2.7],[0.28,5.5],[0.4,2.0],[0.42,4.9],[0.45,5.6],[0.5,5.0],[0.55,5.8],[0.57,4.4],[0.6,5.9],[0.62,5.6],[0.63,4.6],[0.65,3.9],[0.65,5.8],[0.67,5.2],[0.68,4.0],[0.7,6.0],[0.7,5.7],[0.72,5.5],[0.73,3.2],[0.75,4.8],[0.75,5.4],[0.77,5.9],[0.78,2.0],[0.8,5.3],[0.8,4.9],[0.82,4.3],[0.83,6.0],[0.85,5.0],[0.87,3.8],[0.88,5.7],[0.9,4.5],[0.9,5.6],[0.92,5.9],[0.95,3.6],[0.97,5.5],[1,5.2],[1.02,5.8],[1.05,4.9],[1.1,5.6],[1.13,6.0],[1.15,5.4]];
const d4: Pt[] = [[0.25,3.2],[0.27,2.9],[0.35,3.5],[0.4,1.3],[0.45,0.0],[0.5,3.3],[0.52,0.0],[0.55,2.5],[0.57,0.0],[0.6,3.6],[0.6,1.5],[0.62,2.9],[0.63,0.0],[0.65,3.7],[0.67,2.4],[0.68,1.5],[0.7,3.3],[0.7,0.0],[0.72,0.8],[0.73,2.0],[0.75,3.8],[0.75,1.5],[0.77,2.6],[0.78,0.6],[0.8,3.2],[0.8,1.8],[0.82,2.2],[0.83,0.9],[0.85,1.4],[0.87,3.0],[0.88,0.5],[0.9,2.6],[0.92,1.6],[0.95,3.3],[0.97,2.2],[1,3.1],[1.02,2.4],[1.05,2.7],[1.1,3.0],[1.12,1.5],[1.15,2.2]];
const d5: Pt[] = [[0.25,3.3],[0.4,5.6],[0.45,6.1],[0.48,4.4],[0.5,5.9],[0.55,4.2],[0.57,5.7],[0.6,6.0],[0.62,4.8],[0.63,5.6],[0.65,3.8],[0.65,5.4],[0.67,5.9],[0.68,4.1],[0.7,6.1],[0.72,5.3],[0.73,4.5],[0.75,5.8],[0.75,4.0],[0.77,3.7],[0.78,5.5],[0.8,6.0],[0.82,4.9],[0.83,5.7],[0.85,3.6],[0.85,4.4],[0.87,5.9],[0.88,5.2],[0.9,5.5],[0.92,4.8],[0.95,5.8],[0.97,3.6],[1,6.1],[1.02,5.6],[1.05,5.9],[1.1,5.3],[1.13,6.2],[1.15,5.5]];
const d6: Pt[] = [[0.25,0.0],[0.28,2.6],[0.4,2.8],[0.45,0.0],[0.5,3.2],[0.52,1.6],[0.55,2.9],[0.58,2.4],[0.6,3.1],[0.62,2.0],[0.65,0.0],[0.67,2.7],[0.7,3.5],[0.7,2.8],[0.72,2.2],[0.73,3.1],[0.75,3.6],[0.76,1.7],[0.78,2.9],[0.8,3.3],[0.8,2.5],[0.82,0.7],[0.83,2.6],[0.85,1.1],[0.85,0.0],[0.87,3.0],[0.88,1.6],[0.9,3.4],[0.92,2.6],[0.95,3.7],[0.97,2.8],[1,3.2],[1.02,2.5],[1.05,3.1],[1.1,1.6],[1.12,3.2],[1.15,1.5]];
const d7: Pt[] = [[0.2,1.1],[0.22,2.1],[0.25,1.4],[0.43,2.6],[0.55,4.9],[0.57,3.8],[0.6,4.3],[0.6,3.4],[0.62,2.3],[0.63,4.5],[0.65,3.6],[0.67,2.5],[0.68,4.1],[0.7,3.9],[0.7,3.0],[0.72,4.9],[0.73,4.4],[0.75,3.2],[0.75,4.0],[0.77,4.7],[0.78,1.9],[0.8,3.5],[0.8,4.2],[0.82,3.1],[0.83,4.0],[0.85,3.4],[0.85,2.6],[0.87,4.4],[0.88,3.0],[0.9,4.5],[0.92,3.7],[0.95,4.7],[0.95,3.3],[0.97,2.3],[1,3.9],[1.02,4.2],[1.05,4.8],[1.1,3.6],[1.15,4.6],[1.15,3.7]];
const d8: Pt[] = [[0.22,0.0],[0.45,0.0],[0.55,2.0],[0.57,1.3],[0.6,2.5],[0.6,0.2],[0.62,1.6],[0.63,0.0],[0.65,2.2],[0.67,0.1],[0.68,1.9],[0.7,0.0],[0.7,1.5],[0.72,2.6],[0.73,0.3],[0.75,1.7],[0.75,2.4],[0.77,0.5],[0.78,1.2],[0.8,0.2],[0.8,2.0],[0.82,1.5],[0.83,0.0],[0.85,2.3],[0.87,0.9],[0.88,2.1],[0.9,0.1],[0.9,1.2],[0.92,1.7],[0.95,1.3],[0.97,2.0],[1,1.1],[1.02,1.8],[1.05,1.4],[1.1,2.4],[1.15,1.1],[1.15,1.9]];
const d9: Pt[] = [[0.22,0.9],[0.25,2.1],[0.43,0.9],[0.55,1.5],[0.57,0.4],[0.6,2.0],[0.6,1.7],[0.62,1.0],[0.63,0.3],[0.65,2.6],[0.67,1.4],[0.68,0.7],[0.7,3.0],[0.72,1.8],[0.72,2.5],[0.73,3.6],[0.74,0.5],[0.75,3.3],[0.77,1.2],[0.78,2.3],[0.8,0.8],[0.8,2.7],[0.82,1.5],[0.83,0.2],[0.85,2.9],[0.87,1.0],[0.88,3.2],[0.9,0.6],[0.9,1.9],[0.92,2.2],[0.95,1.4],[0.97,0.3],[1,1.9],[1.02,0.8],[1.05,1.3],[1.1,1.6],[1.15,3.1]];
const d10: Pt[] = [[0.22,2.0],[0.23,3.5],[0.43,2.4],[0.55,5.4],[0.57,4.2],[0.6,5.6],[0.6,0.8],[0.62,3.8],[0.63,5.3],[0.65,4.9],[0.65,2.9],[0.67,3.2],[0.68,5.8],[0.7,2.6],[0.7,4.7],[0.72,5.4],[0.73,4.4],[0.75,3.8],[0.75,5.1],[0.77,2.0],[0.78,4.6],[0.8,1.7],[0.8,5.3],[0.82,4.0],[0.83,2.9],[0.85,5.6],[0.87,3.6],[0.88,4.8],[0.9,5.2],[0.9,4.0],[0.92,3.2],[0.95,5.5],[0.97,4.4],[1,1.3],[1,5.0],[1.02,5.6],[1.05,4.3],[1.1,5.2],[1.15,4.9]];
const d11: Pt[] = [[0.22,3.4],[0.23,2.8],[0.4,3.0],[0.5,5.5],[0.55,3.8],[0.57,1.8],[0.6,5.2],[0.6,4.0],[0.62,2.0],[0.63,4.8],[0.65,3.2],[0.67,5.1],[0.68,4.4],[0.7,5.0],[0.7,4.0],[0.72,1.6],[0.73,3.5],[0.75,5.2],[0.77,2.8],[0.78,4.6],[0.8,3.9],[0.8,5.0],[0.82,3.0],[0.83,4.2],[0.85,2.5],[0.87,4.7],[0.88,3.3],[0.9,5.1],[0.9,4.4],[0.92,3.8],[0.95,4.5],[0.97,3.0],[1,5.1],[1.02,3.1],[1.05,4.4],[1.1,4.9],[1.15,5.0],[1.15,4.5]];
const d12: Pt[] = [[0.22,1.4],[0.23,1.7],[0.55,2.0],[0.57,3.0],[0.58,1.0],[0.6,2.6],[0.62,1.0],[0.63,2.2],[0.65,0.3],[0.67,1.8],[0.68,2.7],[0.7,0.9],[0.7,2.5],[0.72,2.9],[0.73,1.5],[0.75,2.4],[0.75,0.6],[0.77,1.3],[0.78,2.0],[0.8,0.4],[0.8,2.6],[0.82,1.0],[0.83,1.7],[0.85,0.2],[0.87,2.3],[0.88,0.9],[0.9,2.6],[0.9,1.6],[0.92,1.3],[0.95,2.9],[0.97,0.1],[1,3.0],[1,0.9],[1.02,2.8],[1.05,2.5],[1.1,2.7],[1.15,1.4],[1.15,2.8]];

const fd1: Fit[] = [[0.44,2.4,2.15,2.65],[0.8,2.7,2.58,2.82],[1.15,3.0,2.75,3.25]];
const fd2: Fit[] = [[0.25,5.15,4.95,5.35],[0.7,5.12,5.02,5.22],[1.15,5.1,4.95,5.25]];
const fd3: Fit[] = [[0.25,4.8,4.5,5.1],[0.7,4.98,4.82,5.14],[1.15,5.18,4.93,5.43]];
const fd4: Fit[] = [[0.25,2.65,2.1,3.2],[0.5,2.42,2.08,2.76],[0.7,2.22,1.95,2.49],[0.9,2.1,1.85,2.35],[1.15,2.35,1.95,2.75]];
const fd5: Fit[] = [[0.25,5.4,5.25,5.55],[0.7,5.4,5.32,5.48],[1.15,5.4,5.28,5.52]];
const fd6: Fit[] = [[0.25,2.58,2.38,2.78],[0.7,2.6,2.48,2.72],[1.15,2.58,2.42,2.74]];
const fd7: Fit[] = [[0.2,1.7,1.1,2.3],[0.35,2.65,2.15,3.15],[0.5,3.5,3.1,3.9],[0.6,3.85,3.6,4.1],[0.75,3.75,3.55,3.95],[0.85,3.6,3.42,3.78],[1,3.85,3.62,4.08],[1.15,4.1,3.7,4.5]];
const fd8: Fit[] = [[0.22,0.1,-0.35,0.75],[0.4,0.8,0.35,1.25],[0.55,1.4,1.12,1.68],[0.7,1.5,1.28,1.72],[0.85,1.4,1.2,1.6],[1,1.45,1.22,1.68],[1.15,1.55,1.2,1.9]];
const fd9: Fit[] = [[0.22,1.8,1.6,2.0],[0.7,1.8,1.68,1.92],[1.15,1.8,1.62,1.98]];
const fd10: Fit[] = [[0.22,2.6,1.85,3.35],[0.4,3.6,3.05,4.15],[0.6,4.6,4.3,4.9],[0.75,4.25,4.0,4.5],[0.85,4.1,3.85,4.35],[0.95,4.55,4.25,4.85],[1.15,4.95,4.3,5.6]];
const fd11: Fit[] = [[0.22,4.05,3.8,4.3],[0.7,4.15,4.0,4.3],[1.15,4.25,4.02,4.48]];
const fd12: Fit[] = [[0.22,1.7,1.2,2.2],[0.4,1.9,1.55,2.25],[0.58,2.15,1.9,2.4],[0.7,1.95,1.72,2.18],[0.85,1.6,1.38,1.82],[0.95,1.9,1.67,2.13],[1.05,2.3,2.05,2.55],[1.15,2.3,1.95,2.65]];

// layout
const COL_X = [37, 146, 255, 364, 473, 582];
const PANEL_TOP = [45, 349, 653, 957];
const ROW_STEP = 130;
const BOX_W = 101;
const BOX_H = 85;
const Y_AXIS_W = 30;
const X_AXIS_H = 22;
const PAD_R = 12;
const PAD_B = 8;
const Y_DOMAIN: [number, number] = [-0.32, 6.55];
const FONT = '"Liberation Sans", Arial, Helvetica, sans-serif';

const minus = (s: string) => s.replace('-', '\u2212');

const panels = [
  { letter: 'A', color: '#BE2B2B', domain: [-2.9, 32] as [number, number], ticks: ticksA, fmt: (v: number) => String(v),
    expl: explA, pts: [a1, a2, a3, a4, a5, a6, a7, a8, a9, a10, a11, a12],
    fits: [fa1, fa2, fa3, fa4, fa5, fa6, fa7, fa8, fa9, fa10, fa11, fa12],
    xlabel: <>SST (°C)</> },
  { letter: 'B', color: '#63A23A', domain: [-1.42, 0.57] as [number, number], ticks: ticksB, fmt: (v: number) => minus(v.toFixed(1)),
    expl: explB, pts: [b1, b2, b3, b4, b5, b6, b7, b8, b9, b10, b11, b12],
    fits: [fb1, fb2, fb3, fb4, fb5, fb6, fb7, fb8, fb9, fb10, fb11, fb12],
    xlabel: <>log<sub style={{ fontSize: 10 }}>10</sub> chl <i>a</i> (mg/m<sup style={{ fontSize: 10 }}>3</sup>)</> },
  { letter: 'C', color: '#7A4396', domain: [-1.38, 1.64] as [number, number], ticks: ticksC, fmt: (v: number) => minus(String(v)),
    expl: explC, pts: [c1, c2, c3, c4, c5, c6, c7, c8, c9, c10, c11, c12],
    fits: [fc1, fc2, fc3, fc4, fc5, fc6, fc7, fc8, fc9, fc10, fc11, fc12],
    xlabel: <>log<sub style={{ fontSize: 10 }}>10</sub> AM NO<sub style={{ fontSize: 10 }}>3</sub> ( μ M)</> },
  { letter: 'D', color: '#4A6CB0', domain: [0.17, 1.22] as [number, number], ticks: ticksD, fmt: (v: number) => v.toFixed(1),
    expl: explD, pts: [d1, d2, d3, d4, d5, d6, d7, d8, d9, d10, d11, d12],
    fits: [fd1, fd2, fd3, fd4, fd5, fd6, fd7, fd8, fd9, fd10, fd11, fd12],
    xlabel: <>log<sub style={{ fontSize: 10 }}>10</sub> IAV SST (°C)</> },
];

const Dot = (p: any) => <circle cx={p.cx} cy={p.cy} r={1.7} fill="#000" />;

const tickStyle = { fontSize: 11, fill: '#4D4D4D', fontFamily: FONT };

function Facet({ p, i }: { p: typeof panels[number]; i: number }) {
  const row = Math.floor(i / 6);
  const col = i % 6;
  const showY = col === 0;
  const showX = row === 1;
  const top = PANEL_TOP[panels.indexOf(p)] + row * ROW_STEP;
  const left = COL_X[col];
  const w = BOX_W + (showY ? Y_AXIS_W : 0) + PAD_R;
  const h = BOX_H + (showX ? X_AXIS_H : 0) + PAD_B;
  const scatter = p.pts[i].map(([x, y]) => ({ x, y }));
  const fit = p.fits[i].map(([x, y]) => ({ x, y }));
  const band = p.fits[i].map(([x, , lo, hi]) => ({ x, band: [lo, hi] }));
  return (
    <>
      <div style={{ position: 'absolute', left: left - 12, top: top - 31, width: BOX_W + 24, textAlign: 'center',
        fontSize: 12.5, lineHeight: '12.5px', color: '#1A1A1A', fontFamily: FONT, whiteSpace: 'nowrap' }}>
        {TAXA[i]}<br />{p.expl[i]}
      </div>
      <div style={{ position: 'absolute', left: left - (showY ? Y_AXIS_W : 0), top }}>
        <ComposedChart width={w} height={h} margin={{ top: 0, right: PAD_R, bottom: PAD_B, left: 0 }}>
          <XAxis dataKey="x" type="number" domain={p.domain} allowDataOverflow ticks={p.ticks} hide={!showX}
            height={X_AXIS_H} axisLine={false} tickSize={3} tickMargin={2} tick={tickStyle}
            tickLine={{ stroke: '#333' }} tickFormatter={p.fmt} interval={0} />
          <YAxis type="number" domain={Y_DOMAIN} allowDataOverflow ticks={yTicks} hide={!showY}
            width={Y_AXIS_W} axisLine={false} tickSize={3} tickMargin={3} tick={tickStyle}
            tickLine={{ stroke: '#333' }} interval={0} />
          <Scatter data={scatter} dataKey="y" shape={Dot} isAnimationActive={false} zIndex={50} />
          <Area data={band} dataKey="band" type="monotone" fill="#999999" fillOpacity={0.45} stroke="none"
            isAnimationActive={false} zIndex={100} />
          <Line data={fit} dataKey="y" type="monotone" stroke={p.color} strokeWidth={2.6} dot={false}
            isAnimationActive={false} zIndex={400} />
        </ComposedChart>
      </div>
      <div style={{ position: 'absolute', left, top, width: BOX_W, height: BOX_H, boxSizing: 'border-box',
        border: '1px solid #7A7A7A', pointerEvents: 'none' }} />
    </>
  );
}

export default function App() {
  return (
    <div style={{ position: 'absolute', left: 0, top: 0, width: 696, height: 1212, background: '#fff', fontFamily: FONT }}>
      {panels.map((p, pi) => {
        const top = PANEL_TOP[pi];
        const bottom = top + ROW_STEP + BOX_H;
        return (
          <React.Fragment key={p.letter}>
            <div style={{ position: 'absolute', left: 7, top: top - 42, fontSize: 17, fontWeight: 'bold', color: '#000' }}>
              {p.letter}
            </div>
            <div style={{ position: 'absolute', left: 13, top: (top + bottom) / 2, transform: 'translate(-50%, -50%) rotate(-90deg)',
              fontSize: 14, whiteSpace: 'nowrap', color: '#000' }}>
              Shannon index
            </div>
            <div style={{ position: 'absolute', left: 37, width: 646, top: bottom + 19, textAlign: 'center', fontSize: 14,
              lineHeight: '18px', color: '#000', whiteSpace: 'nowrap' }}>
              {p.xlabel}
            </div>
            {p.pts.map((_, i) => <Facet key={i} p={p} i={i} />)}
          </React.Fragment>
        );
      })}
    </div>
  );
}
